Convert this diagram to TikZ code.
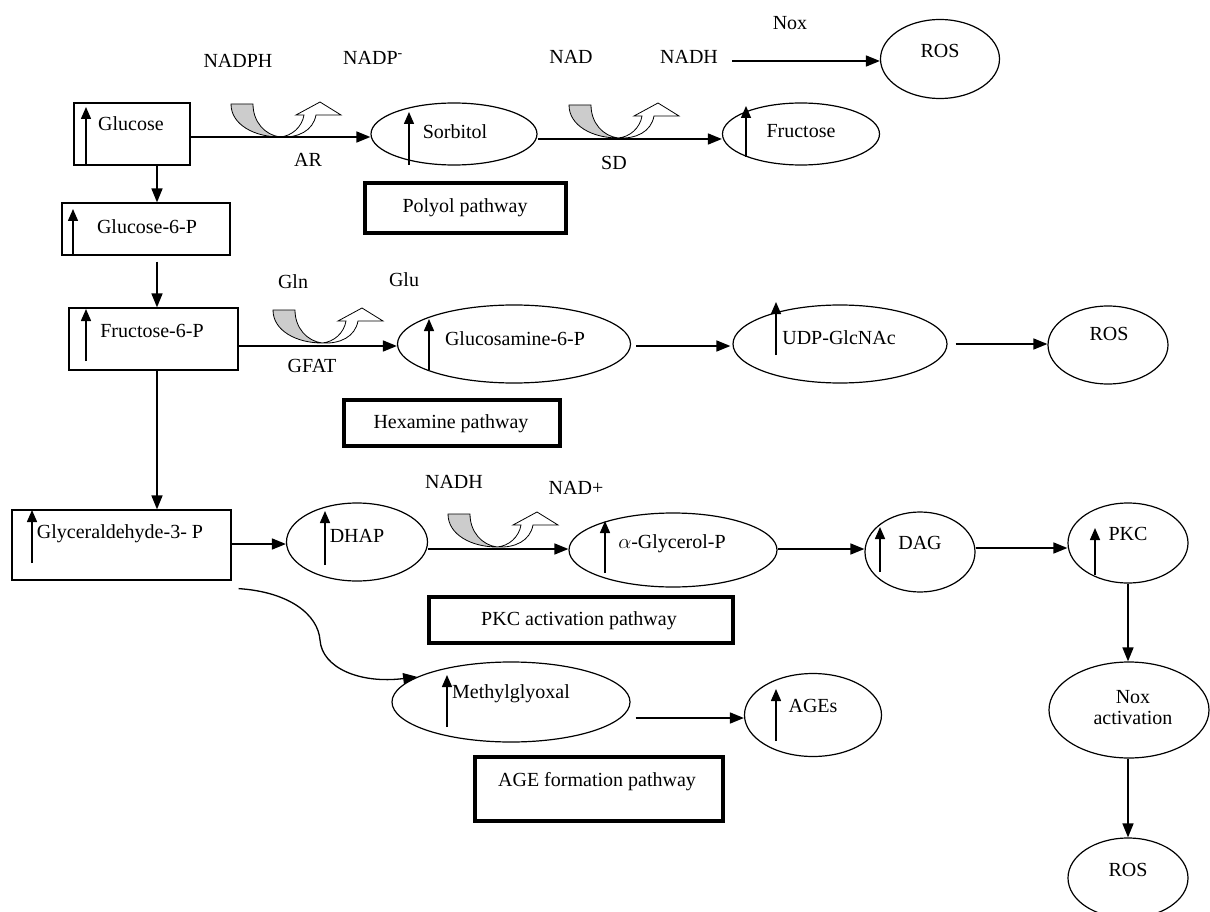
\documentclass[tikz,border=0pt]{standalone}
\usepackage{fontspec}
\setmainfont{Liberation Serif}
\usetikzlibrary{shapes.geometric,arrows.meta,calc}
\tikzset{
  enz/.pic={
    \draw[fill=gray!40, line width=0.8pt] (-49,-33) -- (-27,-33) .. controls (-27,-15) and (-15,-2) .. (0,0) .. controls (-25,0) and (-49,-12) .. (-49,-33) -- cycle;
    \draw[fill=white, line width=0.8pt] (0,0) .. controls (12,-1) and (22,-10) .. (24,-22) -- (16,-22) -- (40,-35) -- (61,-22) -- (36,-22) .. controls (33,-6) and (18,1) .. (0,0) -- cycle;
  }
}
\begin{document}
\begin{tikzpicture}[x=1pt,y=-1pt,
  every node/.style={font=\fontsize{20}{21}\selectfont, inner sep=0pt, align=center},
  rbox/.style={draw, line width=1.2pt, rectangle},
  ell/.style={draw, line width=1.2pt, ellipse},
  pbox/.style={draw, line width=4.5pt, rectangle},
  arr/.style={line width=1.6pt, -{Triangle[length=14pt,width=11pt]}},
  upar/.style={line width=1.5pt, -{Triangle[length=12pt,width=10pt]}}
]
\fill[white] (0,0) rectangle (1210,912);
\useasboundingbox (0,0) rectangle (1210,912);

% ---- shapes ----
\node[rbox, minimum width=116pt, minimum height=62pt] (glc) at (132,134) {};
\node[rbox, minimum width=168pt, minimum height=52pt] (g6p) at (146,229) {};
\node[rbox, minimum width=169pt, minimum height=62pt] (f6p) at (153.5,339) {};
\node[rbox, minimum width=219pt, minimum height=70pt] (g3p) at (121.5,545) {};

\node[ell, minimum width=166pt, minimum height=62pt] (sor) at (454,134) {};
\node[ell, minimum width=157pt, minimum height=62pt] (fru) at (801,134) {};
\node[ell, minimum width=119pt, minimum height=79pt] (ros1) at (940,59) {};
\node[ell, minimum width=233pt, minimum height=78pt] (gam) at (514,344) {};
\node[ell, minimum width=214pt, minimum height=78pt] (udp) at (840,344) {};
\node[ell, minimum width=120pt, minimum height=78pt] (ros2) at (1108,345) {};
\node[ell, minimum width=141pt, minimum height=78pt] (dhap) at (357,542) {};
\node[ell, minimum width=208pt, minimum height=74pt] (agp) at (673,550) {};
\node[ell, minimum width=110pt, minimum height=80pt] (dag) at (920,552) {};
\node[ell, minimum width=120pt, minimum height=80pt] (pkc) at (1128,543) {};
\node[ell, minimum width=160pt, minimum height=96pt] (noxa) at (1129,710) {};
\node[ell, minimum width=120pt, minimum height=80pt] (ros3) at (1128,878) {};
\node[ell, minimum width=238pt, minimum height=80pt] (mgo) at (511,702) {};
\node[ell, minimum width=137pt, minimum height=83pt] (ages) at (813,715) {};

\node[pbox, minimum width=201pt, minimum height=50pt] (polyol) at (465.5,208) {};
\node[pbox, minimum width=216pt, minimum height=46pt] (hexa) at (452,423) {};
\node[pbox, minimum width=304pt, minimum height=46pt] (pkcb) at (581,620) {};
\node[pbox, minimum width=248pt, minimum height=64pt] (ageb) at (599,789) {};

% ---- texts in shapes ----
\node (tglc) at (131,124) {Glucose};
\node (tg6p) at (147,227) {Glucose-6-P};
\node (tf6p) at (152,331) {Fructose-6-P};
\node (tg3p) at (120,534) {Glyceraldehyde-3- P};
\node (tsor) at (455,132) {Sorbitol};
\node (tfru) at (801,131) {Fructose};
\node (tros1) at (940,51) {ROS};
\node (tgam) at (515,339) {Glucosamine-6-P};
\node (tudp) at (839,338) {UDP-GlcNAc};
\node (tros2) at (1109,334) {ROS};
\node (tdhap) at (357,536) {DHAP};
\node (tagp) at (672,544) {$\alpha$-Glycerol-P};
\node (tdag) at (920,543) {DAG};
\node (tpkc) at (1128,534) {PKC};
\node (tnoxa) at (1133,708) {Nox\\activation};
\node (tros3) at (1128,870) {ROS};
\node (tmgo) at (511,694) {Methylglyoxal};
\node (tages) at (813,706) {AGEs};
\node (tpol) at (465,208) {Polyol pathway};
\node (thex) at (451,424) {Hexamine pathway};
\node (tpkcb) at (579,621) {PKC activation pathway};
\node (tageb) at (597,782) {AGE formation pathway};

% ---- free labels ----
\node (nadph) at (238,61) {NADPH};
\node[anchor=west] (nadp) at (343,58) {NADP\textsuperscript{-}};
\node (ar) at (308,160) {AR};
\node (nad1) at (571,57) {NAD};
\node (nadh1) at (689,57) {NADH};
\node (sd) at (614,163) {SD};
\node (nox) at (790,23) {Nox};
\node (gln) at (293,282) {Gln};
\node (glu) at (404,280) {Glu};
\node (gfat) at (312,366) {GFAT};
\node (nadh2) at (454,482) {NADH};
\node (nadp2) at (576,488) {NAD+};

% ---- small up arrows ----
\draw[upar] (86,165) -- (86,107);
\draw[upar] (73,255) -- (73,209);
\draw[upar] (86,361) -- (86,309);
\draw[upar] (32,563) -- (32,510);
\draw[upar] (409,165) -- (409,112);
\draw[upar] (746,157) -- (746,106);
\draw[upar] (429,370) -- (429,319);
\draw[upar] (776,355) -- (776,302);
\draw[upar] (325,565) -- (325,511);
\draw[upar] (605,573) -- (605,521);
\draw[upar] (880,572) -- (880,527);
\draw[upar] (1095,575) -- (1095,528);
\draw[upar] (447,727) -- (447,675);
\draw[upar] (776,741) -- (776,689);

% ---- enzyme symbols ----
\pic at (280,137) {enz};
\pic at (618,138) {enz};
\pic at (322,343) {enz};
\pic at (497,547) {enz};

% ---- connectors ----
\draw[arr] (glc.east |- 0,137) -- (sor.west |- 0,137);
\draw[arr] (sor.east |- 0,139) -- (fru.west |- 0,139);
\draw[arr] ([xshift=14pt]nadh1.east |- 0,61) -- (ros1.west |- 0,61);
\draw[arr] (glc.south -| 157,0) -- (g6p.north -| 157,0);
\draw[arr] ([yshift=-6pt]g6p.south -| 157,0) -- (f6p.north -| 157,0);
\draw[arr] (f6p.south -| 157,0) -- (g3p.north -| 157,0);
\draw[arr] (f6p.east |- 0,346) -- (gam.west |- 0,346);
\draw[arr] ([xshift=5pt]gam.east |- 0,346) -- ([xshift=-2pt]udp.west |- 0,346);
\draw[arr] ([xshift=8pt]udp.east |- 0,344) -- (ros2.west |- 0,344);
\draw[arr] (g3p.east |- 0,544) -- (dhap.west |- 0,544);
\draw[arr] (dhap.east |- 0,549) -- (agp.west |- 0,549);
\draw[arr] (agp.east |- 0,549) -- (dag.west |- 0,549);
\draw[arr] (dag.east |- 0,548) -- (pkc.west |- 0,548);
\draw[arr] (pkc.south) -- (noxa.north -| pkc.south);
\draw[arr] (noxa.south -| ros3.north) -- (ros3.north);
\draw[arr] ([xshift=5pt]mgo.east |- 0,718) -- (ages.west |- 0,718);
\draw[arr, line width=1.3pt] ([shift={(7,8)}]g3p.south east) .. controls (290,592) and (318,615) .. (320,640) .. controls (322,668) and (360,684) .. (mgo.165);
\end{tikzpicture}
\end{document}
